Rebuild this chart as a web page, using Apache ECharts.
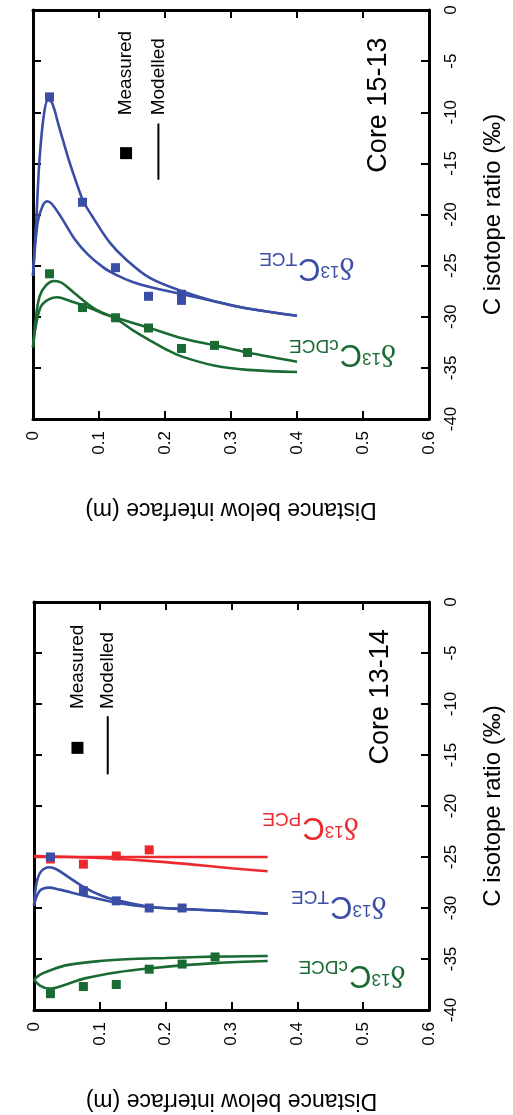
<!DOCTYPE html>
<html><head><meta charset="utf-8">
<script src="https://cdn.jsdelivr.net/npm/echarts/dist/echarts.min.js"></script>
<style>html,body{margin:0;padding:0;background:#fff}#c{width:513px;height:1115px}</style>
</head><body><div id="c"></div>
<script>
// ---------- DATA ----------
// Panel 1: Core 15-13
const tceMeasTop  = [[0.025,-8.5],[0.075,-18.8],[0.125,-25.2],[0.175,-28.0],[0.225,-27.8],[0.225,-28.4]];
const cdceMeasTop = [[0.025,-25.8],[0.075,-29.1],[0.125,-30.1],[0.175,-31.1],[0.225,-33.1],[0.275,-32.8],[0.325,-33.5]];
const tceModTopA  = [[0,-26],[0.005,-20.5],[0.01,-14.5],[0.017,-10],[0.023,-8.8],[0.029,-9.1],[0.039,-11.3],[0.054,-14.6],[0.068,-17.3],[0.077,-18.8],[0.093,-20.5],[0.117,-22.8],[0.141,-24.4],[0.177,-26.2],[0.226,-27.5],[0.276,-28.5],[0.325,-29.2],[0.4,-29.9]];
const tceModTopB  = [[0,-26],[0.007,-20.8],[0.015,-19.1],[0.022,-18.7],[0.029,-19.0],[0.044,-20.4],[0.063,-22.4],[0.083,-23.9],[0.107,-25.2],[0.126,-25.9],[0.151,-26.6],[0.177,-27.1],[0.226,-27.8],[0.276,-28.5],[0.325,-29.2],[0.4,-29.9]];
const cdceModTopA = [[0,-33],[0.004,-30.3],[0.01,-28.0],[0.02,-26.9],[0.032,-26.5],[0.044,-26.7],[0.063,-27.7],[0.093,-29.2],[0.126,-30.2],[0.151,-31.3],[0.177,-32.3],[0.205,-33.3],[0.226,-33.9],[0.276,-34.8],[0.325,-35.2],[0.4,-35.4]];
const cdceModTopB = [[0,-33],[0.004,-31],[0.012,-29],[0.024,-28.3],[0.037,-28.1],[0.054,-28.4],[0.077,-28.9],[0.107,-29.7],[0.126,-30.1],[0.177,-31.1],[0.226,-32.1],[0.276,-32.8],[0.325,-33.5],[0.4,-34.4]];
// Panel 2: Core 13-14
const pceMeasBot  = [[0.025,-25.2],[0.075,-25.7],[0.125,-24.9],[0.175,-24.3]];
const tceMeasBot  = [[0.025,-25.0],[0.075,-28.3],[0.125,-29.3],[0.175,-30.0],[0.225,-30.0]];
const cdceMeasBot = [[0.025,-38.4],[0.075,-37.7],[0.125,-37.5],[0.175,-36.0],[0.225,-35.5],[0.275,-34.8]];
const pceModBotA  = [[0,-25.0],[0.355,-25.0]];
const pceModBotB  = [[0,-24.9],[0.1,-25.1],[0.2,-25.5],[0.3,-26.1],[0.355,-26.4]];
const tceModBotA  = [[0,-29.8],[0.004,-27.5],[0.011,-26.4],[0.023,-26.0],[0.034,-26.2],[0.053,-27.0],[0.077,-28.0],[0.103,-28.8],[0.127,-29.25],[0.177,-29.9],[0.227,-30.1],[0.29,-30.3],[0.355,-30.55]];
const tceModBotB  = [[0,-29.7],[0.009,-28.3],[0.023,-28.0],[0.039,-28.2],[0.077,-28.8],[0.127,-29.5],[0.177,-29.9],[0.227,-30.1],[0.29,-30.3],[0.355,-30.55]];
const cdceModBotA = [[0,-37.0],[0.009,-37.6],[0.024,-37.9],[0.044,-37.6],[0.077,-36.9],[0.127,-36.3],[0.178,-35.9],[0.228,-35.6],[0.276,-35.4],[0.355,-35.2]];
const cdceModBotB = [[0,-37.0],[0.01,-36.5],[0.025,-36.1],[0.05,-35.6],[0.1,-35.2],[0.15,-35.0],[0.2,-34.9],[0.25,-34.8],[0.3,-34.75],[0.355,-34.7]];

const xTicks = [0, 0.1, 0.2, 0.3, 0.4, 0.5, 0.6];
const yTicks = [-40, -35, -30, -25, -20, -15, -10, -5, 0];
const panelTitles = ['Core 15-13', 'Core 13-14'];
const xName = 'Distance below interface (m)';
const yName = 'C isotope ratio (‰)';

// ---------- STYLE ----------
const BLUE = '#3a4ea6', GREEN = '#1a6a34', RED = '#ec2a2d';
const FONT = 'Liberation Sans, Arial, sans-serif';

const chart = echarts.init(document.getElementById('c'), null, {renderer: 'canvas'});

const grids = [
  {left: 33, top: 10, width: 409, height: 409},
  {left: 34, top: 602, width: 405, height: 408}
];

function xAx(g, pos) {
  const main = pos === 'bottom';
  return {
    type: 'value', gridIndex: g, position: pos,
    min: xTicks[0], max: xTicks[xTicks.length-1], interval: 0.1,
    axisLine: {show: true, onZero: false, lineStyle: {color: '#000', width: 3}},
    axisTick: {show: true, inside: true, length: 8, lineStyle: {color: '#000', width: 2}},
    axisLabel: {show: main, rotate: 90, margin: 12, fontSize: 17, color: '#000', fontFamily: FONT,
      formatter: v => v === 0 ? '0' : v.toFixed(1)},
    splitLine: {show: false},
    name: main ? xName : '', nameLocation: 'middle', nameRotate: 180, nameGap: 79,
    nameTextStyle: {fontSize: 23, color: '#000', fontFamily: FONT}
  };
}
function yAx(g, pos) {
  const main = pos === 'right';
  return {
    type: 'value', gridIndex: g, position: pos,
    min: yTicks[0], max: yTicks[yTicks.length-1], interval: 5,
    axisLine: {show: true, onZero: false, lineStyle: {color: '#000', width: 3}},
    axisTick: {show: true, inside: true, length: 8, lineStyle: {color: '#000', width: 2}},
    axisLabel: {show: main, rotate: 90, margin: 14, fontSize: 17, color: '#000', fontFamily: FONT},
    splitLine: {show: false},
    name: main ? yName : '', nameLocation: 'middle', nameRotate: 90, nameGap: 52,
    nameTextStyle: {fontSize: 24, color: '#000', fontFamily: FONT}
  };
}

function line(g, data, color) {
  return {type: 'line', xAxisIndex: g*2, yAxisIndex: g*2, data, showSymbol: false, smooth: 0.35,
    lineStyle: {color, width: 2.6}, z: 2, silent: true};
}
function pts(g, data, color) {
  return {type: 'scatter', xAxisIndex: g*2, yAxisIndex: g*2, data, symbol: 'rect', symbolSize: 9,
    itemStyle: {color, opacity: 1}, z: 3, silent: true};
}

chart.setOption({
  animation: false,
  backgroundColor: '#fff',
  grid: grids,
  xAxis: [xAx(0,'bottom'), xAx(0,'top'), xAx(1,'bottom'), xAx(1,'top')],
  yAxis: [yAx(0,'right'), yAx(0,'left'), yAx(1,'right'), yAx(1,'left')],
  series: [
    line(0, tceModTopA, BLUE), line(0, tceModTopB, BLUE),
    line(0, cdceModTopA, GREEN), line(0, cdceModTopB, GREEN),
    pts(0, tceMeasTop, BLUE), pts(0, cdceMeasTop, GREEN),
    line(1, pceModBotA, RED), line(1, pceModBotB, RED),
    line(1, tceModBotA, BLUE), line(1, tceModBotB, BLUE),
    line(1, cdceModBotA, GREEN), line(1, cdceModBotB, GREEN),
    pts(1, pceMeasBot, RED), pts(1, tceMeasBot, BLUE), pts(1, cdceMeasBot, GREEN)
  ]
});

// ---------- ANNOTATIONS (placed in data space) ----------
function px(g, x, y) { return chart.convertToPixel({xAxisIndex: g*2, yAxisIndex: g*2}, [x, y]); }

function deltaLabel(g, x, y, sub, color) {
  const p = px(g, x, y);
  return {
    type: 'text', x: p[0], y: p[1], rotation: Math.PI, z: 10, silent: true,
    style: {
      text: '{d|δ}{s|13}{c|C}{b|' + sub + '}',
      align: 'center', verticalAlign: 'middle', fill: color,
      rich: {
        d: {fontFamily: 'Liberation Serif, serif', fontSize: 32, fill: color, lineHeight: 34, verticalAlign: 'top'},
        s: {fontFamily: FONT, fontSize: 17, fill: color, lineHeight: 18, verticalAlign: 'top', padding: [3,0,0,0]},
        c: {fontFamily: FONT, fontSize: 31, fill: color, lineHeight: 34, verticalAlign: 'top'},
        b: {fontFamily: FONT, fontSize: 19, fill: color, lineHeight: 20, verticalAlign: 'bottom', padding: [30,0,0,1]}
      }
    }
  };
}
function rotText(g, x, y, text, size, align) {
  const p = px(g, x, y);
  return {type: 'text', x: p[0], y: p[1], rotation: Math.PI/2, z: 10, silent: true,
    style: {text, fontSize: size, fontFamily: FONT, fill: '#000', align: align, verticalAlign: 'middle'}};
}
function legend(g, xm, xl, yText, ySq, yl1, yl2) {
  const sq = px(g, xm, ySq);
  const a = px(g, xl, yl1), b = px(g, xl, yl2);
  return [
    rotText(g, xm, yText, 'Measured', 19, 'left'),
    rotText(g, xl, yText, 'Modelled', 19, 'left'),
    {type: 'rect', shape: {x: sq[0]-6, y: sq[1]-6, width: 12, height: 12}, style: {fill: '#000'}, z: 10, silent: true},
    {type: 'line', shape: {x1: a[0], y1: a[1], x2: b[0], y2: b[1]}, style: {stroke: '#000', lineWidth: 2}, z: 10, silent: true}
  ];
}

const graphics = [].concat(
  [deltaLabel(0, 0.415, -25.0, 'TCE', BLUE),
   deltaLabel(0, 0.469, -33.5, 'cDCE', GREEN),
   rotText(0, 0.524, -9.3, panelTitles[0], 27, 'center')],
  legend(0, 0.141, 0.19, -10.3, -14.0, -11.1, -16.6),
  [deltaLabel(1, 0.42, -21.9, 'PCE', RED),
   deltaLabel(1, 0.463, -29.6, 'TCE', BLUE),
   deltaLabel(1, 0.483, -36.4, 'cDCE', GREEN),
   rotText(1, 0.527, -9.3, panelTitles[1], 27, 'center')],
  legend(1, 0.066, 0.112, -10.5, -14.3, -11.2, -16.9)
);
chart.setOption({graphic: graphics});
</script></body></html>
